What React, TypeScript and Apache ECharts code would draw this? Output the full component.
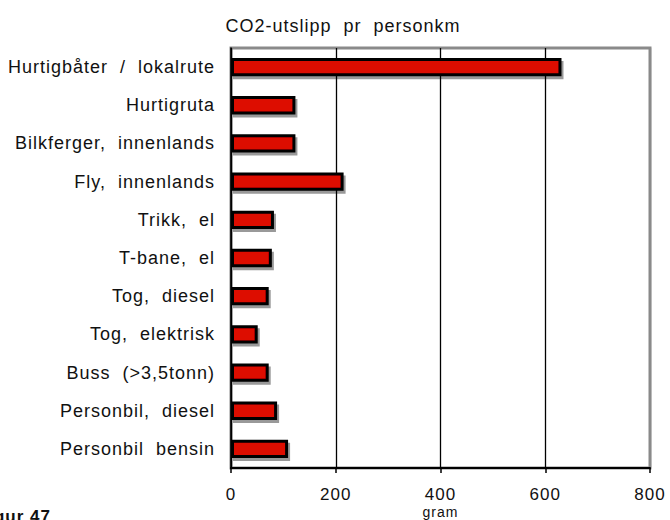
import React, { useEffect, useRef } from "react";
import * as echarts from "echarts";

const categories = [
  "Hurtigbåter  /  lokalrute",
  "Hurtigruta",
  "Bilkferger,  innenlands",
  "Fly,  innenlands",
  "Trikk,  el",
  "T-bane,  el",
  "Tog,  diesel",
  "Tog,  elektrisk",
  "Buss  (>3,5tonn)",
  "Personbil,  diesel",
  "Personbil  bensin",
];
const values = [631, 123, 123, 215, 82, 78, 72, 51, 72, 88, 109];
const xTicks = [0, 200, 400, 600, 800];
const titleText = "CO2-utslipp  pr  personkm";
const axisName = "gram";
const figureLabel = "Figur 47";

const FONT = "'Liberation Sans', Arial, sans-serif";

export default function App() {
  const ref = useRef<HTMLDivElement>(null);
  useEffect(() => {
    if (!ref.current) return;
    const chart = echarts.init(ref.current, null, { renderer: "svg" });
    chart.setOption({
      animation: false,
      backgroundColor: "#ffffff",
      title: {
        text: titleText,
        left: 338,
        top: 12,
        textAlign: "center",
        textStyle: { fontFamily: FONT, fontSize: 18, fontWeight: "normal", color: "#111" },
      },
      graphic: [
        {
          type: "text",
          right: 627,
          top: 508,
          style: {
            text: figureLabel,
            fontFamily: FONT,
            fontSize: 17,
            fontWeight: "bold",
            fill: "#111",
          },
        },
      ],
      grid: {
        left: 231,
        right: 20,
        top: 48,
        bottom: 52,
        outerBoundsMode: "none",
        containLabel: false,
        show: true,
        borderColor: "#8a8a8a",
        borderWidth: 3,
        backgroundColor: "transparent",
      },
      xAxis: {
        type: "value",
        min: xTicks[0],
        max: xTicks[xTicks.length - 1],
        interval: xTicks[1] - xTicks[0],
        name: axisName,
        nameLocation: "middle",
        nameGap: 37,
        nameMoveOverlap: false,
        nameTextStyle: { fontFamily: FONT, fontSize: 14, lineHeight: 14, color: "#111" },
        axisLine: { show: true, lineStyle: { color: "#000", width: 2 } },
        axisTick: { show: true, length: 5, lineStyle: { color: "#000", width: 1.5 } },
        axisLabel: { margin: 18, fontFamily: FONT, fontSize: 17, lineHeight: 17, color: "#111" },
        splitLine: {
          show: true,
          lineStyle: { color: ["#000", "#000", "#000", "#000", "#8a8a8a"], width: 1.3 },
        },
      },
      yAxis: {
        type: "category",
        data: categories,
        inverse: true,
        axisLine: { show: true, lineStyle: { color: "#000", width: 1.5 } },
        axisTick: { show: false },
        axisLabel: { margin: 16, fontFamily: FONT, fontSize: 18, color: "#111" },
        splitLine: { show: false },
      },
      series: [
        {
          type: "bar",
          data: values,
          barWidth: "48%",
          itemStyle: {
            color: "#dd0806",
            borderColor: "#000",
            borderWidth: 3,
            shadowColor: "rgba(0,0,0,0.4)",
            shadowOffsetX: 2,
            shadowOffsetY: 3,
            shadowBlur: 0,
          },
          emphasis: { disabled: true },
        },
      ],
    });
    return () => chart.dispose();
  }, []);
  return (
    <div
      ref={ref}
      style={{
        position: "fixed",
        left: 0,
        top: 0,
        width: 670,
        height: 520,
        letterSpacing: "1px",
        whiteSpace: "pre",
      }}
    />
  );
}
